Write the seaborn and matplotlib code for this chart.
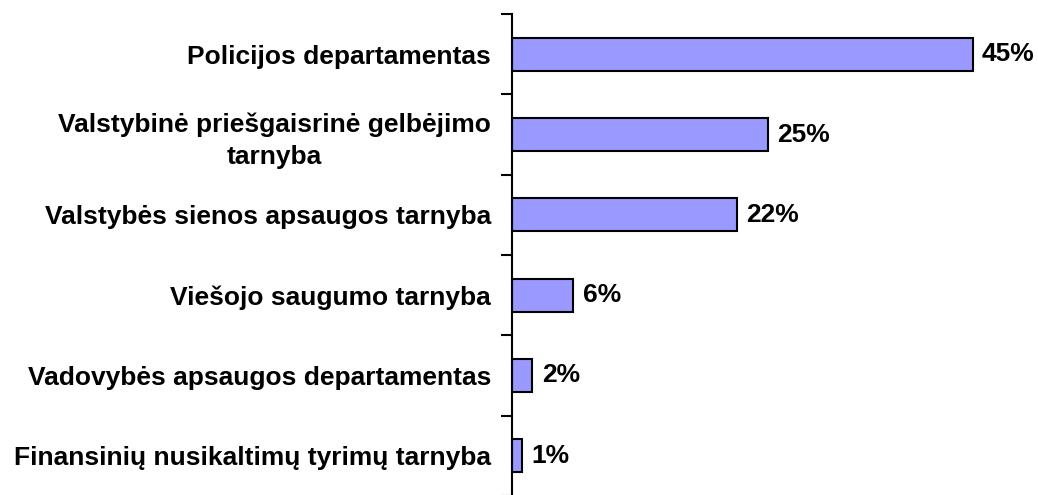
import matplotlib
matplotlib.use("Agg")
import matplotlib.pyplot as plt
import seaborn as sns
import pandas as pd
import numpy as np

# Data
categories = [
    "Policijos departamentas",
    "Valstybinė priešgaisrinė gelbėjimo\ntarnyba",
    "Valstybės sienos apsaugos tarnyba",
    "Viešojo saugumo tarnyba",
    "Vadovybės apsaugos departamentas",
    "Finansinių nusikaltimų tyrimų tarnyba",
]
values = [45, 25, 22, 6, 2, 1]

df = pd.DataFrame({"category": categories, "value": values})

sns.set_style("white")
plt.rcParams["font.family"] = ["Liberation Sans", "DejaVu Sans"]
plt.rcParams["text.color"] = "black"
plt.rcParams["ytick.color"] = "black"
plt.rcParams["ytick.labelcolor"] = "black"

fig = plt.figure(figsize=(10.38, 4.95), dpi=100)
ax = fig.add_axes([512 / 1038, -1 / 495, 512 / 1038, 482 / 495])

sns.barplot(data=df, x="value", y="category", orient="h", color="#9999FF",
            saturation=1, edgecolor="black", linewidth=1.5, width=0.41, ax=ax)

ax.set_xlim(0, 50)
ax.set_ylim(len(categories) - 0.5, -0.5)
ax.set_xlabel("")
ax.set_ylabel("")
ax.set_xticks([])

for s in ["top", "right", "bottom"]:
    ax.spines[s].set_visible(False)
ax.spines["left"].set_linewidth(1.5)
ax.spines["left"].set_color("black")

# category labels at centres, tick marks between bands
ax.tick_params(axis="y", which="major", left=True, length=0, pad=15)
ax.set_yticks(np.arange(len(categories) + 1) - 0.5, minor=True)
ax.tick_params(axis="y", which="minor", left=True, length=8, width=1.5,
               direction="out", color="black")
for lbl in ax.get_yticklabels():
    lbl.set_fontsize(19)
    lbl.set_fontweight("bold")
    lbl.set_color("black")
    lbl.set_multialignment("center")
    lbl.set_linespacing(1.42)

for i, v in enumerate(values):
    ax.text(v + 0.9, i, f"{v}%", va="center", ha="left", fontsize=19,
            fontweight="bold", color="black")

fig.savefig("out.png", dpi=100)
